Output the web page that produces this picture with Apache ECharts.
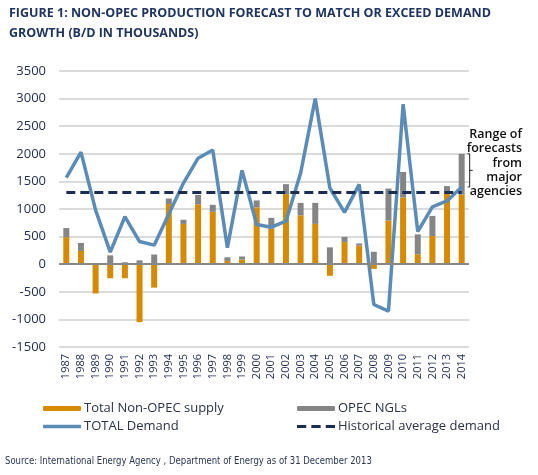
<!DOCTYPE html>
<html>
<head>
<meta charset="utf-8">
<script src="https://cdn.jsdelivr.net/npm/echarts@6/dist/echarts.min.js"></script>
<style>
  html, body { margin: 0; padding: 0; background: #fff; }
  #chart { width: 538px; height: 475px; }
</style>
</head>
<body>
<div id="chart"></div>
<script>
var years = ['1987','1988','1989','1990','1991','1992','1993','1994','1995','1996',
             '1997','1998','1999','2000','2001','2002','2003','2004','2005','2006',
             '2007','2008','2009','2010','2011','2012','2013','2014'];
// Total Non-OPEC supply
var nonOpec = [490, 240, -530, -255, -255, -1050, -425, 1090, 730, 1085,
               950, 60, 85, 1030, 650, 1270, 885, 730, -210, 400,
               340, -85, 790, 1210, 180, 510, 1285, 1260];
// OPEC NGLs (stacked on top)
var opecNgl = [165, 145, 0, 160, 35, 70, 175, 100, 75, 170,
               125, 65, 55, 125, 190, 180, 225, 380, 305, 95,
               35, 225, 580, 460, 360, 365, 130, 740];
// TOTAL Demand
var demand = [1570, 2030, 980, 220, 860, 410, 345, 910, 1470, 1920,
              2070, 300, 1700, 720, 670, 780, 1650, 3000, 1380, 940,
              1445, -730, -850, 2900, 590, 1040, 1145, 1400];
var avgDemand = 1300;
var forecastRange = [1400, 2000];
var yTicks = { min: -1500, max: 3500, interval: 500 };

var navy = '#1f3461';
var demandColor = '#5b8cb8';
var avgColor = '#1b2d52';
var myChart = echarts.init(document.getElementById('chart'));

function legendBox(name, left, top, icon) {
    var item = { name: name };
    if (icon) item.icon = icon;
    return {
        data: [item],
        left: left,
        top: top,
        itemWidth: 38,
        itemHeight: icon ? 3.5 : 5,
        itemGap: 4,
        textStyle: { color: '#2b3245', fontSize: 13, fontFamily: 'Open Sans', padding: [0, 0, 0, -2] }
    };
}

var option = {
    animation: false,
    textStyle: { fontFamily: 'Open Sans' },
    title: {
        text: 'FIGURE 1: NON-OPEC PRODUCTION FORECAST TO MATCH OR EXCEED DEMAND\nGROWTH (B/D IN THOUSANDS)',
        left: 4,
        top: -2,
        textStyle: {
            color: navy,
            fontFamily: 'Open Sans',
            fontWeight: 'bold',
            fontSize: 12.5,
            lineHeight: 20
        }
    },
    grid: { left: 59, right: 69, top: 71, bottom: 128 },
    legend: [
        legendBox('Total Non-OPEC supply', 38, 397),
        legendBox('OPEC NGLs', 292, 397),
        legendBox('TOTAL Demand', 38, 415, 'roundRect'),
        legendBox('Historical average demand', 292, 415,
            'path://M0,0h9v3h-9z M14,0h9v3h-9z M28,0h9v3h-9z')
    ],
    xAxis: {
        type: 'category',
        data: years,
        axisLine: { show: false },
        axisTick: { show: false },
        axisLabel: {
            rotate: 90,
            interval: 0,
            color: '#1f2a4d',
            fontSize: 11,
            margin: 7
        }
    },
    yAxis: {
        type: 'value',
        min: yTicks.min,
        max: yTicks.max,
        interval: yTicks.interval,
        axisLine: { show: false },
        axisTick: { show: false },
        axisLabel: {
            color: '#1f2a4d',
            fontSize: 13,
            margin: 13,
            formatter: function (v) { return String(v); }
        },
        splitLine: { lineStyle: { color: '#cfcfcf', width: 1.5 } }
    },
    series: [
        {
            name: 'Total Non-OPEC supply',
            type: 'bar',
            stack: 'supply',
            data: nonOpec,
            barWidth: 6,
            itemStyle: { color: '#d68a00' },
            markLine: {
                silent: true,
                symbol: 'none',
                label: { show: false },
                lineStyle: { color: '#888888', width: 2, type: 'solid' },
                data: [{ yAxis: 0 }]
            }
        },
        {
            name: 'OPEC NGLs',
            type: 'bar',
            stack: 'supply',
            data: opecNgl,
            barWidth: 6,
            itemStyle: { color: '#858585' }
        },
        {
            name: 'TOTAL Demand',
            type: 'line',
            data: demand,
            symbol: 'none',
            lineStyle: { color: demandColor, width: 3.5 },
            itemStyle: { color: demandColor },
            z: 3
        },
        {
            name: 'Historical average demand',
            type: 'line',
            data: years.map(function () { return avgDemand; }),
            symbol: 'none',
            lineStyle: { color: avgColor, width: 3, type: [9, 5] },
            itemStyle: { color: avgColor },
            z: 4
        }
    ]
};
myChart.setOption(option);

// bracket marking the range of forecasts, next to the last year
var pTop = myChart.convertToPixel({ gridIndex: 0 }, [years.length - 1, forecastRange[1]]);
var pBot = myChart.convertToPixel({ gridIndex: 0 }, [years.length - 1, forecastRange[0]]);
var bx = pTop[0] + 8;
var midY = (pTop[1] + pBot[1]) / 2;
myChart.setOption({
    graphic: [
        {
            type: 'polyline',
            shape: { points: [[bx - 2, pTop[1]], [bx, pTop[1]], [bx, pBot[1]], [bx - 2, pBot[1]]] },
            style: { stroke: '#222', lineWidth: 1, fill: null }
        },
        {
            type: 'line',
            shape: { x1: bx, y1: midY, x2: bx + 3, y2: midY },
            style: { stroke: '#222', lineWidth: 1 }
        },
        {
            type: 'text',
            x: 522,
            y: 127,
            style: {
                text: 'Range of\nforecasts\nfrom\nmajor\nagencies',
                align: 'right',
                verticalAlign: 'top',
                fill: '#111',
                font: '600 12.5px "Open Sans"',
                lineHeight: 14.4
            }
        },
        {
            type: 'text',
            x: 5,
            y: 456,
            scaleX: 0.86,
            style: {
                text: 'Source: International Energy Agency , Department of Energy as of 31 December 2013',
                fill: '#2a3550',
                font: '11px "DejaVu Sans Condensed", "Open Sans"'
            }
        }
    ]
});
</script>
</body>
</html>
